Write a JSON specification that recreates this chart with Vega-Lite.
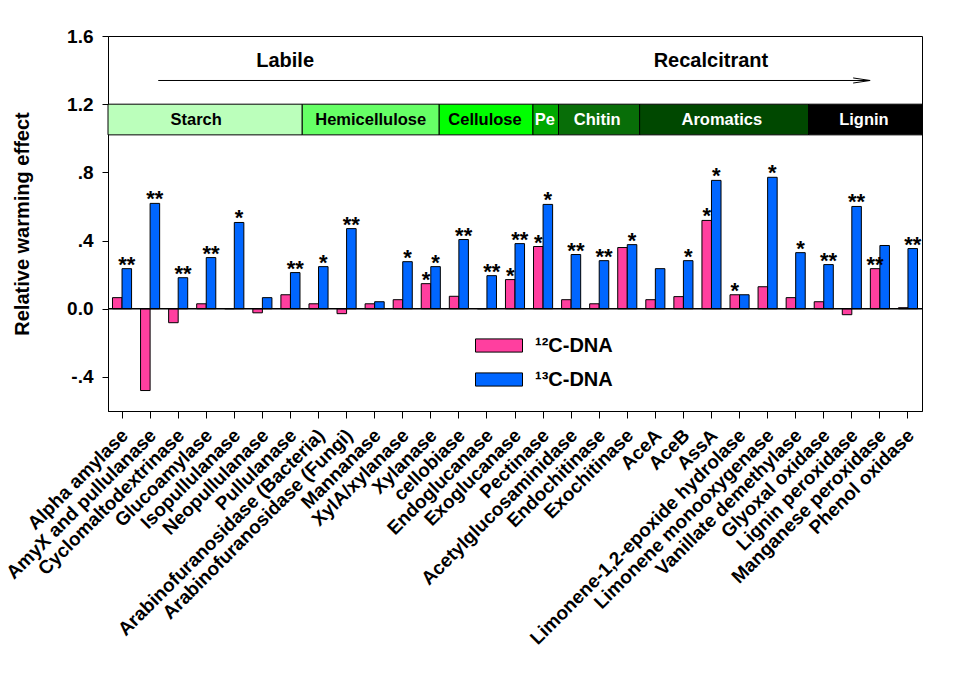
{
  "$schema": "https://vega.github.io/schema/vega-lite/v6.json",
  "width": 814,
  "height": 375,
  "padding": {"left": 2, "top": 27, "right": 5, "bottom": 5},
  "config": {
    "font": "Liberation Sans",
    "view": {"stroke": "black", "strokeWidth": 1},
    "axis": {"grid": false, "domainColor": "black", "tickColor": "black", "labelColor": "black", "titleColor": "black", "labelFont": "Liberation Sans", "titleFont": "Liberation Sans"}
  },
  "datasets": {
    "bars": [
      {"enzyme": "Alpha amylase", "dna": "¹²C-DNA", "value": 0.065, "sig": ""},
      {"enzyme": "Alpha amylase", "dna": "¹³C-DNA", "value": 0.235, "sig": "**"},
      {"enzyme": "AmyX and pullulanase", "dna": "¹²C-DNA", "value": -0.48, "sig": ""},
      {"enzyme": "AmyX and pullulanase", "dna": "¹³C-DNA", "value": 0.618, "sig": "**"},
      {"enzyme": "Cyclomaltodextrinase", "dna": "¹²C-DNA", "value": -0.082, "sig": ""},
      {"enzyme": "Cyclomaltodextrinase", "dna": "¹³C-DNA", "value": 0.182, "sig": "**"},
      {"enzyme": "Glucoamylase", "dna": "¹²C-DNA", "value": 0.029, "sig": ""},
      {"enzyme": "Glucoamylase", "dna": "¹³C-DNA", "value": 0.3, "sig": "**"},
      {"enzyme": "Isopullulanase", "dna": "¹²C-DNA", "value": 0, "sig": ""},
      {"enzyme": "Isopullulanase", "dna": "¹³C-DNA", "value": 0.506, "sig": "*"},
      {"enzyme": "Neopullulanase", "dna": "¹²C-DNA", "value": -0.024, "sig": ""},
      {"enzyme": "Neopullulanase", "dna": "¹³C-DNA", "value": 0.065, "sig": ""},
      {"enzyme": "Pullulanase", "dna": "¹²C-DNA", "value": 0.082, "sig": ""},
      {"enzyme": "Pullulanase", "dna": "¹³C-DNA", "value": 0.212, "sig": "**"},
      {"enzyme": "Arabinofuranosidase (Bacteria)", "dna": "¹²C-DNA", "value": 0.029, "sig": ""},
      {"enzyme": "Arabinofuranosidase (Bacteria)", "dna": "¹³C-DNA", "value": 0.247, "sig": "*"},
      {"enzyme": "Arabinofuranosidase (Fungi)", "dna": "¹²C-DNA", "value": -0.029, "sig": ""},
      {"enzyme": "Arabinofuranosidase (Fungi)", "dna": "¹³C-DNA", "value": 0.47, "sig": "**"},
      {"enzyme": "Mannanase", "dna": "¹²C-DNA", "value": 0.029, "sig": ""},
      {"enzyme": "Mannanase", "dna": "¹³C-DNA", "value": 0.041, "sig": ""},
      {"enzyme": "XylA/xylanase", "dna": "¹²C-DNA", "value": 0.053, "sig": ""},
      {"enzyme": "XylA/xylanase", "dna": "¹³C-DNA", "value": 0.276, "sig": "*"},
      {"enzyme": "Xylanase", "dna": "¹²C-DNA", "value": 0.147, "sig": "*"},
      {"enzyme": "Xylanase", "dna": "¹³C-DNA", "value": 0.247, "sig": "*"},
      {"enzyme": "cellobiase", "dna": "¹²C-DNA", "value": 0.073, "sig": ""},
      {"enzyme": "cellobiase", "dna": "¹³C-DNA", "value": 0.406, "sig": "**"},
      {"enzyme": "Endoglucanase", "dna": "¹²C-DNA", "value": 0, "sig": ""},
      {"enzyme": "Endoglucanase", "dna": "¹³C-DNA", "value": 0.194, "sig": "**"},
      {"enzyme": "Exoglucanase", "dna": "¹²C-DNA", "value": 0.171, "sig": "*"},
      {"enzyme": "Exoglucanase", "dna": "¹³C-DNA", "value": 0.382, "sig": "**"},
      {"enzyme": "Pectinase", "dna": "¹²C-DNA", "value": 0.365, "sig": "*"},
      {"enzyme": "Pectinase", "dna": "¹³C-DNA", "value": 0.612, "sig": "*"},
      {"enzyme": "Acetylglucosaminidase", "dna": "¹²C-DNA", "value": 0.053, "sig": ""},
      {"enzyme": "Acetylglucosaminidase", "dna": "¹³C-DNA", "value": 0.318, "sig": "**"},
      {"enzyme": "Endochitinase", "dna": "¹²C-DNA", "value": 0.029, "sig": ""},
      {"enzyme": "Endochitinase", "dna": "¹³C-DNA", "value": 0.282, "sig": "**"},
      {"enzyme": "Exochitinase", "dna": "¹²C-DNA", "value": 0.359, "sig": ""},
      {"enzyme": "Exochitinase", "dna": "¹³C-DNA", "value": 0.376, "sig": "*"},
      {"enzyme": "AceA", "dna": "¹²C-DNA", "value": 0.053, "sig": ""},
      {"enzyme": "AceA", "dna": "¹³C-DNA", "value": 0.235, "sig": ""},
      {"enzyme": "AceB", "dna": "¹²C-DNA", "value": 0.071, "sig": ""},
      {"enzyme": "AceB", "dna": "¹³C-DNA", "value": 0.282, "sig": "*"},
      {"enzyme": "AssA", "dna": "¹²C-DNA", "value": 0.518, "sig": "*"},
      {"enzyme": "AssA", "dna": "¹³C-DNA", "value": 0.753, "sig": "*"},
      {"enzyme": "Limonene-1,2-epoxide hydrolase", "dna": "¹²C-DNA", "value": 0.082, "sig": "*"},
      {"enzyme": "Limonene-1,2-epoxide hydrolase", "dna": "¹³C-DNA", "value": 0.082, "sig": ""},
      {"enzyme": "Limonene monooxygenase", "dna": "¹²C-DNA", "value": 0.129, "sig": ""},
      {"enzyme": "Limonene monooxygenase", "dna": "¹³C-DNA", "value": 0.771, "sig": "*"},
      {"enzyme": "Vanillate demethylase", "dna": "¹²C-DNA", "value": 0.065, "sig": ""},
      {"enzyme": "Vanillate demethylase", "dna": "¹³C-DNA", "value": 0.329, "sig": "*"},
      {"enzyme": "Glyoxal oxidase", "dna": "¹²C-DNA", "value": 0.041, "sig": ""},
      {"enzyme": "Glyoxal oxidase", "dna": "¹³C-DNA", "value": 0.259, "sig": "**"},
      {"enzyme": "Lignin peroxidase", "dna": "¹²C-DNA", "value": -0.035, "sig": ""},
      {"enzyme": "Lignin peroxidase", "dna": "¹³C-DNA", "value": 0.6, "sig": "**"},
      {"enzyme": "Manganese peroxidase", "dna": "¹²C-DNA", "value": 0.235, "sig": "**"},
      {"enzyme": "Manganese peroxidase", "dna": "¹³C-DNA", "value": 0.371, "sig": ""},
      {"enzyme": "Phenol oxidase", "dna": "¹²C-DNA", "value": 0.006, "sig": ""},
      {"enzyme": "Phenol oxidase", "dna": "¹³C-DNA", "value": 0.353, "sig": "**"}
    ],
    "groups": [
      {"group": "Starch", "start": 0, "end": 6.92, "mid": 3.14},
      {"group": "Hemicellulose", "start": 6.92, "end": 11.8, "mid": 9.36},
      {"group": "Cellulose", "start": 11.8, "end": 15.14, "mid": 13.43},
      {"group": "Pe", "start": 15.14, "end": 16.05, "mid": 15.56},
      {"group": "Chitin", "start": 16.05, "end": 18.94, "mid": 17.43},
      {"group": "Aromatics", "start": 18.94, "end": 24.96, "mid": 21.87},
      {"group": "Lignin", "start": 24.96, "end": 29, "mid": 26.93}
    ],
    "notes": [
      {"label": "Labile", "pos": 6.31, "level": 1.455},
      {"label": "Recalcitrant", "pos": 21.48, "level": 1.455}
    ],
    "arrow": [
      {"from": 1.79, "to": 27.14, "head": 26.85, "level": 1.339}
    ]
  },
  "layer": [
    {
      "data": {"name": "bars"},
      "encoding": {
        "x": {
          "field": "enzyme", "type": "nominal", "sort": null,
          "scale": {"paddingInner": 0.32, "paddingOuter": 0.16},
          "axis": {"title": null, "labelAngle": -45, "labelAlign": "right", "labelBaseline": "middle", "labelFontSize": 19, "labelFontWeight": "bold", "labelLimit": 0, "labelPadding": 14, "labelOffset": 3, "tickSize": 7, "labelOverlap": false}
        },
        "xOffset": {"field": "dna", "type": "nominal", "sort": null, "scale": {"paddingInner": 0, "paddingOuter": 0}},
        "y": {
          "field": "value", "type": "quantitative", "title": "Relative warming effect",
          "scale": {"domain": [-0.6, 1.6], "nice": false, "zero": false},
          "axis": {"title": "Relative warming effect", "titleFontSize": 20, "titleFontWeight": "bold", "titlePadding": 34, "values": [-0.4, 0, 0.4, 0.8, 1.2, 1.6], "labelExpr": "datum.value == 0 ? '0.0' : replace(replace(format(datum.value, '.1f'), '0.', '.'), '\u2212', '-')", "labelFontSize": 19, "labelFontWeight": "bold", "labelPadding": 9, "tickSize": 6}
        }
      },
      "layer": [
        {
          "mark": {"type": "bar", "stroke": "black", "strokeWidth": 1, "opacity": 1},
          "encoding": {
            "color": {
              "field": "dna", "type": "nominal", "sort": null,
              "scale": {"domain": ["¹²C-DNA", "¹³C-DNA"], "range": ["#FF3F9F", "#0066FF"]},
              "legend": {
                "title": null, "orient": "none", "legendX": 367, "legendY": 285.5,
                "padding": 0, "symbolType": "M-1,-0.28L1,-0.28L1,0.28L-1,0.28Z", "symbolSize": 2209,
                "symbolStrokeColor": "black", "symbolStrokeWidth": 1, "symbolOpacity": 1,
                "labelFontSize": 20, "labelFontWeight": "bold", "labelFont": "Liberation Sans", "labelColor": "black",
                "labelOffset": 12, "rowPadding": -18.5
              }
            }
          }
        },
        {
          "transform": [{"filter": "datum.sig != ''"}],
          "mark": {"type": "text", "fontSize": 22, "fontWeight": "bold", "baseline": "alphabetic", "dy": 3, "color": "black"},
          "encoding": {"text": {"field": "sig"}}
        }
      ]
    },
    {
      "layer": [
        {
          "data": {"name": "groups"},
          "mark": {"type": "rect", "stroke": "black", "strokeWidth": 1},
          "encoding": {
            "x": {"field": "start", "type": "quantitative", "scale": {"domain": [0, 29], "nice": false, "zero": false}, "axis": null},
            "x2": {"field": "end"},
            "y": {"datum": 1.02, "type": "quantitative", "title": "Relative warming effect"},
            "y2": {"datum": 1.2},
            "fill": {
              "field": "group", "type": "nominal", "legend": null,
              "scale": {"domain": ["Starch", "Hemicellulose", "Cellulose", "Pe", "Chitin", "Aromatics", "Lignin"], "range": ["#BBFFBB", "#66FF66", "#00FF00", "#00A800", "#086E08", "#004800", "#000000"]}
            }
          }
        },
        {
          "data": {"name": "groups"},
          "mark": {"type": "text", "fontSize": 16.5, "fontWeight": "bold", "baseline": "middle", "align": "center"},
          "encoding": {
            "x": {"field": "mid", "type": "quantitative", "axis": null},
            "y": {"datum": 1.11, "type": "quantitative", "title": "Relative warming effect"},
            "text": {"field": "group"},
            "color": {"condition": {"test": "indexof(['Pe','Chitin','Aromatics','Lignin'], datum.group) >= 0", "value": "white"}, "value": "black"}
          }
        },
        {
          "data": {"name": "notes"},
          "mark": {"type": "text", "fontSize": 20, "fontWeight": "bold", "baseline": "middle", "align": "center", "color": "black"},
          "encoding": {
            "x": {"field": "pos", "type": "quantitative", "axis": null},
            "y": {"field": "level", "type": "quantitative", "title": "Relative warming effect"},
            "text": {"field": "label"}
          }
        },
        {
          "data": {"name": "arrow"},
          "mark": {"type": "rule", "color": "black", "strokeWidth": 1},
          "encoding": {
            "x": {"field": "from", "type": "quantitative", "axis": null},
            "x2": {"field": "to"},
            "y": {"field": "level", "type": "quantitative", "title": "Relative warming effect"}
          }
        },
        {
          "data": {"name": "arrow"},
          "mark": {"type": "point", "shape": "M-1,-0.3L1,0L-1,0.3", "filled": false, "stroke": "black", "strokeWidth": 1, "size": 289, "opacity": 1},
          "encoding": {
            "x": {"field": "head", "type": "quantitative", "axis": null},
            "y": {"field": "level", "type": "quantitative", "title": "Relative warming effect"}
          }
        },
        {
          "data": {"name": "arrow"},
          "mark": {"type": "rule", "color": "black", "strokeWidth": 1.5},
          "encoding": {"y": {"datum": 0, "type": "quantitative", "title": "Relative warming effect"}}
        }
      ]
    }
  ],
  "resolve": {"scale": {"x": "independent"}}
}
